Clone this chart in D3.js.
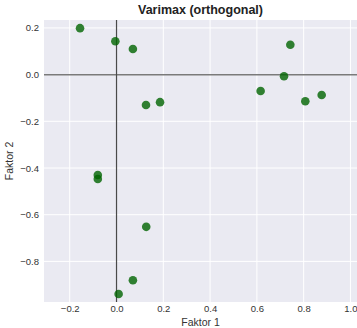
<!DOCTYPE html>
<html>
<head>
<meta charset="utf-8">
<script src="https://cdn.jsdelivr.net/npm/d3@7"></script>
<style>
  body { margin: 0; background: #fff; }
  svg { display: block; font-family: "Liberation Sans", Arial, sans-serif; }
</style>
</head>
<body>
<div id="chart"></div>
<script>
// loadings after varimax rotation
var faktor1 = [-0.156, -0.005, 0.070, 0.126, 0.186, 0.743, 0.716, 0.616, 0.807, 0.877, -0.080, -0.080, 0.127, 0.070, 0.009];
var faktor2 = [0.199, 0.143, 0.110, -0.130, -0.118, 0.128, -0.007, -0.070, -0.114, -0.087, -0.430, -0.447, -0.652, -0.881, -0.940];
var xTicks = [-0.2, 0.0, 0.2, 0.4, 0.6, 0.8, 1.0];
var yTicks = [-0.8, -0.6, -0.4, -0.2, 0.0, 0.2];

var w = 357, h = 328;
var margin = {top: 20, right: 0, bottom: 26, left: 44};

var svg = d3.select("#chart").append("svg")
    .attr("width", w)
    .attr("height", h);

var x = d3.scaleLinear().domain([-0.31, 1.028]).range([margin.left, w - margin.right]);
var y = d3.scaleLinear().domain([-0.974, 0.234]).range([h - margin.bottom, margin.top]);

svg.append("rect")
    .attr("x", margin.left)
    .attr("y", margin.top)
    .attr("width", w - margin.right - margin.left)
    .attr("height", h - margin.bottom - margin.top)
    .attr("fill", "#eaeaf2");

// grid
svg.append("g").selectAll("line").data(xTicks).enter().append("line")
    .attr("x1", d => x(d)).attr("x2", d => x(d))
    .attr("y1", margin.top).attr("y2", h - margin.bottom)
    .attr("stroke", "#fff").attr("stroke-width", 1);
svg.append("g").selectAll("line").data(yTicks).enter().append("line")
    .attr("x1", margin.left).attr("x2", w - margin.right)
    .attr("y1", d => y(d)).attr("y2", d => y(d))
    .attr("stroke", "#fff").attr("stroke-width", 1);

// zero lines
svg.append("line")
    .attr("x1", margin.left).attr("x2", w - margin.right)
    .attr("y1", y(0)).attr("y2", y(0))
    .attr("stroke", "#7a7a7a").attr("stroke-width", 1.5);
svg.append("line")
    .attr("x1", x(0)).attr("x2", x(0))
    .attr("y1", margin.top).attr("y2", h - margin.bottom)
    .attr("stroke", "#4a4a4a").attr("stroke-width", 1.2);

// axes
var fmt = d => d3.format(".1f")(d).replace("-", "\u2212");
var xAxis = svg.append("g")
    .attr("transform", "translate(0," + (h - margin.bottom) + ")")
    .call(d3.axisBottom(x).tickValues(xTicks).tickFormat(fmt).tickSize(0).tickPadding(3));
var yAxis = svg.append("g")
    .attr("transform", "translate(" + margin.left + ",0)")
    .call(d3.axisLeft(y).tickValues(yTicks).tickFormat(fmt).tickSize(0).tickPadding(5));
[xAxis, yAxis].forEach(function(a){
    a.select(".domain").remove();
    a.selectAll("text").attr("fill", "#333").style("font-size", "9.5px")
        .style("font-family", "'Liberation Sans', Arial, sans-serif");
});

// points
svg.append("g").selectAll("circle")
    .data(faktor1.map((d, i) => [d, faktor2[i]]))
    .enter().append("circle")
    .attr("cx", d => x(d[0]))
    .attr("cy", d => y(d[1]))
    .attr("r", 4.3)
    .attr("fill", "#006400")
    .attr("fill-opacity", 0.8);

// labels
svg.append("text")
    .attr("x", (margin.left + w - margin.right) / 2)
    .attr("y", 14)
    .attr("text-anchor", "middle")
    .style("font-size", "12.5px")
    .style("font-weight", "bold")
    .attr("fill", "#222")
    .text("Varimax (orthogonal)");

svg.append("text")
    .attr("x", (margin.left + w - margin.right) / 2)
    .attr("y", 326)
    .attr("text-anchor", "middle")
    .style("font-size", "10.5px")
    .attr("fill", "#333")
    .text("Faktor 1");

svg.append("text")
    .attr("transform", "translate(13," + ((margin.top + h - margin.bottom) / 2) + ") rotate(-90)")
    .attr("text-anchor", "middle")
    .style("font-size", "10.5px")
    .attr("fill", "#333")
    .text("Faktor 2");
</script>
</body>
</html>
